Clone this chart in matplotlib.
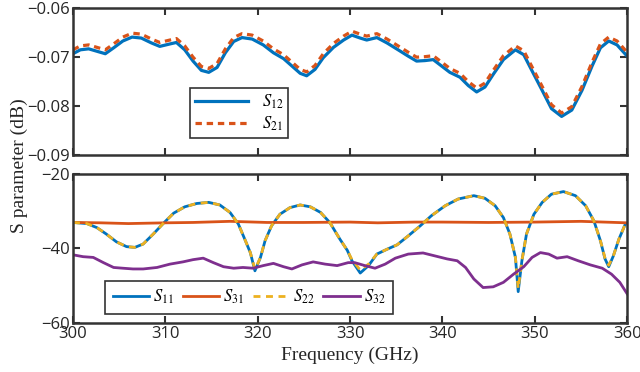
import matplotlib
matplotlib.use("Agg")
import matplotlib.pyplot as plt
import numpy as np

plt.rcParams['mathtext.fontset'] = 'stix'
plt.rcParams['font.family'] = 'Open Sans'

# top panel: transmission (dB)
f_top = [300, 300.8, 301.7, 302.6, 303.5, 304.4, 305.4, 306.4, 307.4, 308.5, 309.4,
         310.5, 311.2, 312.1, 313, 313.9, 314.7, 315.6, 316.5, 317.4, 318.3, 319.4,
         320.6, 321.7, 322.8, 323.7, 324.6, 325.3, 326.2, 327.1, 328.2, 329.3, 330.2,
         331.1, 331.8, 332.9, 334, 335.2, 336.3, 337.2, 338.1, 339, 339.9, 340.8,
         341.9, 342.8, 343.7, 344.6, 345.5, 346.6, 347.9, 348.8, 349.7, 350.8, 351.8,
         352.9, 354, 355.1, 356.2, 357.1, 358, 358.9, 360]
s12 = [-0.0693, -0.0685, -0.0683, -0.0688, -0.0693, -0.0681, -0.0667, -0.0659, -0.0661,
       -0.0671, -0.0678, -0.0673, -0.0670, -0.0685, -0.0708, -0.0727, -0.0731, -0.0721,
       -0.0691, -0.0668, -0.0660, -0.0663, -0.0675, -0.0691, -0.0703, -0.0718, -0.0733,
       -0.0738, -0.0725, -0.0701, -0.0680, -0.0665, -0.0655, -0.0661, -0.0665, -0.0660,
       -0.0671, -0.0685, -0.0698, -0.0708, -0.0707, -0.0705, -0.0718, -0.0731, -0.0741,
       -0.0758, -0.0771, -0.0761, -0.0735, -0.0705, -0.0685, -0.0695, -0.0728, -0.0768,
       -0.0805, -0.0821, -0.0808, -0.0768, -0.0718, -0.0681, -0.0667, -0.0675, -0.0698]
s21 = [-0.0685, -0.0677, -0.0675, -0.0680, -0.0685, -0.0673, -0.0659, -0.0651, -0.0653,
       -0.0663, -0.0670, -0.0665, -0.0662, -0.0677, -0.0700, -0.0719, -0.0723, -0.0713,
       -0.0683, -0.0660, -0.0652, -0.0655, -0.0667, -0.0683, -0.0695, -0.0710, -0.0725,
       -0.0730, -0.0717, -0.0693, -0.0672, -0.0657, -0.0647, -0.0653, -0.0657, -0.0652,
       -0.0663, -0.0677, -0.0690, -0.0700, -0.0699, -0.0697, -0.0710, -0.0723, -0.0733,
       -0.0750, -0.0763, -0.0753, -0.0727, -0.0697, -0.0677, -0.0687, -0.0720, -0.0760,
       -0.0797, -0.0814, -0.0801, -0.0760, -0.0710, -0.0673, -0.0659, -0.0667, -0.0690]

# bottom panel: reflection / isolation (dB)
f_s11 = [300, 301.5, 302.6, 303.6, 304.7, 305.8, 306.7, 307.6, 308.7, 309.8, 310.9,
         312.1, 313.4, 314.7, 315.9, 317, 317.9, 318.6, 319.2, 319.7, 320.3, 320.8,
         321.5, 322.4, 323.5, 324.6, 325.7, 326.8, 327.8, 328.9, 329.7, 330.2, 331.1,
         332, 332.9, 334, 335.1, 336.3, 337.6, 338.8, 340.3, 341.7, 343.4, 344.6,
         345.7, 346.6, 347.3, 347.9, 348.2, 348.6, 349.1, 349.9, 350.8, 351.8, 353.1,
         354.4, 355.5, 356.4, 357.1, 357.6, 358, 358.5, 359.1, 359.8]
s11 = [-33, -33.3, -34.4, -36.1, -38.2, -39.5, -39.7, -38.8, -36.1, -33.2, -30.5,
       -28.8, -27.9, -27.6, -28.3, -30.3, -33.4, -37.5, -41.1, -46, -42.4, -37.9,
       -33.9, -30.8, -29, -28.3, -28.8, -30.3, -33, -37.5, -40.5, -43.3, -46.6,
       -44.6, -41.5, -40.2, -39, -36.6, -33.9, -31.2, -28.5, -26.7, -25.8, -26.5,
       -28.5, -31.7, -36.1, -42.4, -51.6, -43.3, -36.1, -30.8, -27.6, -25.4, -24.7,
       -25.8, -28.5, -32.6, -37.9, -42.8, -44.9, -42, -37.5, -33.4]
s22 = [-33, -33.3, -34.4, -36.1, -38.2, -39.5, -39.7, -38.8, -36.1, -33.2, -30.5,
       -28.8, -27.9, -27.6, -28.3, -30.3, -33.4, -37.5, -41.1, -45.6, -42.4, -37.9,
       -33.9, -30.8, -29, -28.3, -28.8, -30.3, -33, -37.5, -40.5, -43.0, -45.8,
       -44.2, -41.5, -40.2, -39, -36.6, -33.9, -31.2, -28.5, -26.7, -25.8, -26.5,
       -28.5, -31.7, -36.1, -42.4, -50.8, -43.3, -36.1, -30.8, -27.6, -25.4, -24.7,
       -25.8, -28.5, -32.6, -37.9, -42.6, -44.5, -42, -37.5, -33.4]
f_s31 = [300, 303, 306, 310, 313, 317, 321, 325, 330, 333, 337, 340, 345, 350, 355, 360]
s31 = [-33, -33.1, -33.3, -33.1, -33, -32.7, -33, -33, -32.9, -33.1, -32.9, -32.9,
       -33, -32.9, -32.7, -33.1]
f_s32 = [300, 301.1, 302.2, 303.3, 304.4, 305.4, 306.5, 307.6, 309.1, 310.5, 311.9,
         313, 314.1, 315.2, 316.3, 317.4, 318.4, 319.5, 320.6, 321.7, 322.8, 323.7,
         324.8, 326, 327.3, 328.6, 329.8, 330.5, 331.6, 332.7, 333.8, 334.9, 336.3,
         337.9, 339.2, 340.5, 341.6, 342.5, 343.4, 344.4, 345.5, 346.6, 347.7, 348.8,
         349.7, 350.6, 351.5, 352.4, 353.5, 354.7, 356, 357.3, 358.3, 359.2, 360]
s32 = [-41.7, -42.2, -42.4, -43.8, -45.1, -45.3, -45.5, -45.5, -45.1, -44.2, -43.6,
       -43, -42.6, -43.8, -44.9, -45.3, -45.1, -45.3, -44.6, -44, -44.9, -45.5,
       -44.4, -43.6, -44.2, -44.6, -43.8, -43.8, -44.6, -45.3, -44.2, -42.6, -41.5,
       -41.2, -42, -42.8, -43.3, -45.1, -48.2, -50.5, -50.3, -49.1, -46.9, -44.9,
       -42.4, -41.1, -41.5, -42.6, -42.2, -43.3, -44.4, -45.3, -46.9, -49.1, -52.2]

blue, red, yellow, purple = '#0072BD', '#D95319', '#EDB120', '#7E2F8E'
edge = '#333333'

fig = plt.figure(figsize=(6.4, 3.72), dpi=100)
ax1 = fig.add_axes([0.114, 0.583, 0.866, 0.395])
ax2 = fig.add_axes([0.114, 0.132, 0.866, 0.400])

ax1.plot(f_top, s12, color=blue, lw=2.3, label=r'$S_{12}$')
ax1.plot(f_top, s21, color=red, lw=2.3, ls=(0, (2, 1.5)), label=r'$S_{21}$')
ax1.set_ylim(-0.09, -0.06)
ax1.set_yticks([-0.06, -0.07, -0.08, -0.09])
ax1.set_yticklabels(['\u22120.06', '\u22120.07', '\u22120.08', '\u22120.09'])
ax1.set_xticklabels([])

ax2.plot(f_s11, s11, color=blue, lw=2, label=r'$S_{11}$')
ax2.plot(f_s31, s31, color=red, lw=2, label=r'$S_{31}$')
ax2.plot(f_s11, s22, color=yellow, lw=2, ls=(0, (2.5, 2)), label=r'$S_{22}$')
ax2.plot(f_s32, s32, color=purple, lw=2, label=r'$S_{32}$')
ax2.set_ylim(-60, -20)
ax2.set_yticks([-20, -40, -60])
ax2.set_yticklabels(['\u221220', '\u221240', '\u221260'])

for ax in (ax1, ax2):
    ax.set_xlim(300, 360)
    ax.set_xticks(np.arange(300, 361, 10))
    ax.tick_params(direction='in', top=True, right=True, length=5, width=1.5,
                   color=edge, labelsize=12, labelcolor='#262626', pad=2)
    for s in ax.spines.values():
        s.set_linewidth(1.8)
        s.set_color(edge)

leg_kw = dict(fancybox=False, edgecolor=edge, framealpha=1,
              labelspacing=0.2, borderaxespad=0)
l1 = ax1.legend(loc='lower left', bbox_to_anchor=(0.211, 0.116), handlelength=3.2,
                borderpad=0.3, prop={'family': 'Liberation Serif', 'size': 12}, **leg_kw)
l1.get_frame().set_linewidth(1.2)
l2 = ax2.legend(loc='lower left', bbox_to_anchor=(0.058, 0.06), ncol=4,
                handlelength=2.2, columnspacing=0.5, handletextpad=0.25, borderpad=0.45,
                prop={'family': 'Liberation Serif', 'size': 12}, **leg_kw)
l2.get_frame().set_linewidth(1.2)

fig.text(0.03, 0.555, 'S parameter (dB)', rotation=90, va='center', ha='center',
         family='Liberation Serif', fontsize=14, color='#262626')
fig.text(0.547, 0.045, 'Frequency (GHz)', va='center', ha='center',
         family='Liberation Serif', fontsize=14, color='#262626')

fig.savefig('out.png', dpi=100)
